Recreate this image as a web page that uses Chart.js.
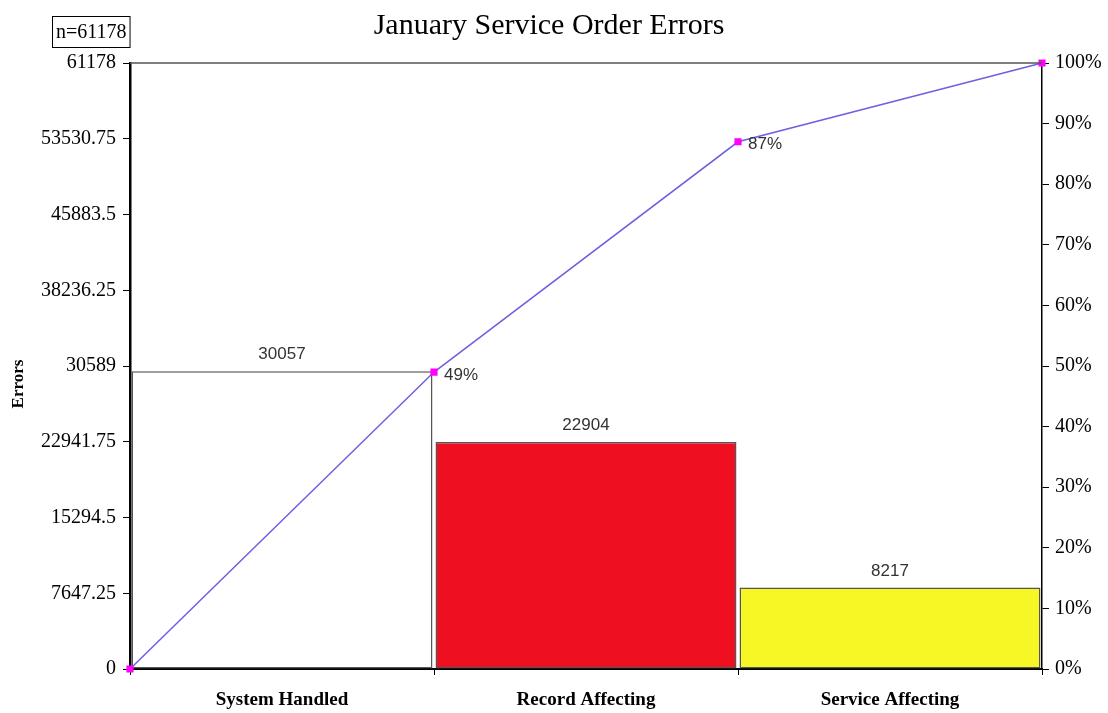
<!DOCTYPE html>
<html>
<head>
<meta charset="utf-8">
<script src="https://cdn.jsdelivr.net/npm/chart.js@4/dist/chart.umd.min.js"></script>
<style>
  html, body { margin: 0; padding: 0; background: #ffffff; }
  #wrap { width: 1108px; height: 713px; }
</style>
</head>
<body>
<div id="wrap"><canvas id="c" width="1108" height="713"></canvas></div>
<script>
// Pareto of January service order errors
const categories = ['System Handled', 'Record Affecting', 'Service Affecting'];
const errorCounts = [30057, 22904, 8217];
const barColors = ['#ffffff', '#ee1020', '#f7f725'];
const cumulativePct = [0, 49, 87, 100];
const cumulativeLabels = ['', '49%', '87%', ''];
const totalErrors = 61178;
const leftTicks = [0, 7647.25, 15294.5, 22941.75, 30589, 38236.25, 45883.5, 53530.75, 61178];
const rightTicks = [0, 10, 20, 30, 40, 50, 60, 70, 80, 90, 100];
const chartTitle = 'January Service Order Errors';
const yTitle = 'Errors';

const SERIF = '"Liberation Serif", "Times New Roman", serif';
const SANS = '"Liberation Sans", Arial, sans-serif';

const decorations = {
  id: 'decorations',
  afterDatasetsDraw(chart) {
    const ctx = chart.ctx;
    const area = chart.chartArea;
    const x = chart.scales.x, y = chart.scales.y;
    const x2 = chart.scales.x2, y2 = chart.scales.y2;
    ctx.save();
    // top frame line
    ctx.strokeStyle = '#555555';
    ctx.lineWidth = 1.5;
    ctx.beginPath();
    ctx.moveTo(area.left, area.top);
    ctx.lineTo(area.right, area.top);
    ctx.stroke();

    // value labels above bars
    ctx.fillStyle = '#333333';
    ctx.font = '17px ' + SANS;
    ctx.textAlign = 'center';
    ctx.textBaseline = 'bottom';
    errorCounts.forEach((v, i) => {
      ctx.fillText(String(v), x.getPixelForValue(i), y.getPixelForValue(v) - 8);
    });

    // cumulative percent labels
    ctx.textAlign = 'left';
    ctx.textBaseline = 'middle';
    cumulativePct.forEach((p, i) => {
      if (!cumulativeLabels[i]) return;
      ctx.fillText(cumulativeLabels[i], x2.getPixelForValue(i) + 10, y2.getPixelForValue(p) + 3);
    });
    ctx.restore();
  },
  afterDraw(chart) {
    const ctx = chart.ctx;
    ctx.save();
    // title
    ctx.fillStyle = '#000000';
    ctx.font = '30px ' + SERIF;
    ctx.textAlign = 'center';
    ctx.textBaseline = 'middle';
    ctx.fillText(chartTitle, 549, 26);

    // sample size box
    ctx.font = '20px ' + SERIF;
    ctx.textAlign = 'left';
    const label = 'n=' + totalErrors;
    const w = ctx.measureText(label).width;
    ctx.strokeStyle = '#000000';
    ctx.lineWidth = 1;
    ctx.strokeRect(52.5, 16.5, w + 7, 31);
    ctx.fillText(label, 56, 33);

    // y axis title
    ctx.translate(19, 384);
    ctx.rotate(-Math.PI / 2);
    ctx.font = 'bold 17px ' + SERIF;
    ctx.textAlign = 'center';
    ctx.fillText(yTitle, 0, 0);
    ctx.restore();
  }
};

new Chart(document.getElementById('c'), {
  type: 'bar',
  data: {
    labels: categories,
    datasets: [
      {
        type: 'bar',
        data: errorCounts,
        backgroundColor: barColors,
        borderColor: '#555555',
        borderWidth: 1.5,
        borderSkipped: false,
        grouped: false,
        barPercentage: 0.99,
        categoryPercentage: 1,
        xAxisID: 'x',
        yAxisID: 'y',
        order: 1
      },
      {
        type: 'line',
        data: cumulativePct.map((p, i) => ({ x: i, y: p })),
        xAxisID: 'x2',
        yAxisID: 'y2',
        borderColor: '#6e60e0',
        borderWidth: 1.5,
        pointStyle: 'rect',
        pointRadius: 4,
        pointBackgroundColor: '#ff00ff',
        pointBorderColor: '#ff00ff',
        tension: 0,
        order: 0,
        clip: false
      }
    ]
  },
  options: {
    responsive: false,
    animation: false,
    events: [],
    layout: { padding: { top: 63, left: 0, right: 0, bottom: 0 } },
    plugins: { legend: { display: false }, tooltip: { enabled: false }, title: { display: false } },
    scales: {
      x: {
        type: 'category',
        position: 'bottom',
        offset: true,
        grid: { display: true, offset: true, drawOnChartArea: false, color: '#000000', tickLength: 6, lineWidth: 1 },
        border: { display: true, color: '#000000', width: 2 },
        ticks: { color: '#000000', padding: 14, font: { family: SERIF, size: 19, weight: 'bold' } },
        afterFit(s) { s.height = 44; }
      },
      x2: {
        type: 'linear',
        display: false,
        offset: false,
        min: 0,
        max: 3,
        grid: { offset: false }
      },
      y: {
        type: 'linear',
        position: 'left',
        min: 0,
        max: totalErrors,
        afterBuildTicks(s) { s.ticks = leftTicks.map(v => ({ value: v })); },
        grid: { display: true, drawOnChartArea: false, color: '#000000', tickLength: 7 },
        border: { display: true, color: '#000000', width: 2.5 },
        ticks: { color: '#000000', padding: 7, font: { family: SERIF, size: 20 }, callback: v => String(v) },
        afterFit(s) { s.width = 130; }
      },
      y2: {
        type: 'linear',
        position: 'right',
        min: 0,
        max: 100,
        afterBuildTicks(s) { s.ticks = rightTicks.map(v => ({ value: v })); },
        grid: { display: true, drawOnChartArea: false, color: '#000000', tickLength: 7 },
        border: { display: true, color: '#000000', width: 1.5 },
        ticks: { color: '#000000', padding: 6, font: { family: SERIF, size: 20 }, callback: v => v + '%' },
        afterFit(s) { s.width = 66; }
      }
    }
  },
  plugins: [decorations]
});
</script>
</body>
</html>
